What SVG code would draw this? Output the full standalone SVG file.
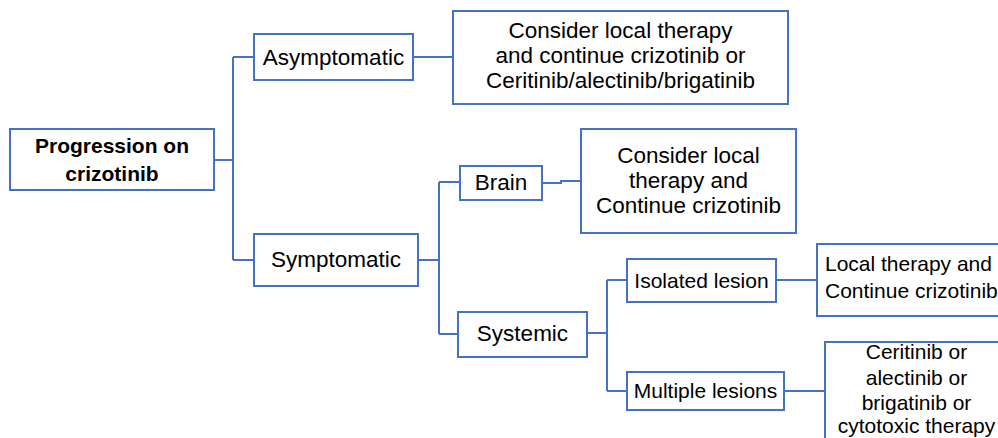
<svg xmlns="http://www.w3.org/2000/svg" width="998" height="438" viewBox="0 0 998 438">
<style>
.box{fill:#fff;stroke:#4472C4;stroke-width:2}
.ln{fill:none;stroke:#4472C4;stroke-width:2}
text{font-family:"Liberation Sans",Arial,sans-serif;font-size:22.5px;fill:#000;text-anchor:middle}
.b{font-weight:bold;font-size:21px}
.s{font-size:21px}
.l{text-anchor:start}
</style>
<rect width="998" height="438" fill="#fff"/>
<g id="connectors">
<path class="ln" d="M214,160 H233 M233,57 V260 M233,57 H254 M233,260 H254"/>
<path class="ln" d="M413,57 H453"/>
<path class="ln" d="M418,260 H439 M439,182 V334 M439,182 H460 M439,334 H458"/>
<path class="ln" d="M542,183 H561 V181 H581"/>
<path class="ln" d="M587,333 H607 M607,280 V391 M607,280 H627 M607,391 H627"/>
<path class="ln" d="M776,280 H817"/>
<path class="ln" d="M784,391 H825"/>
</g>
<g id="n-progression">
<rect class="box" x="10" y="129" width="204" height="61"/>
<text class="b" x="112" y="153">Progression on</text>
<text class="b" x="112" y="181">crizotinib</text>
</g>
<g id="n-asymptomatic">
<rect class="box" x="254" y="34" width="159" height="46"/>
<text x="333.5" y="65">Asymptomatic</text>
</g>
<g id="n-consider1">
<rect class="box" x="453" y="11" width="335" height="93"/>
<text x="620.5" y="38">Consider local therapy</text>
<text x="620.5" y="63">and continue crizotinib or</text>
<text x="620.5" y="88">Ceritinib/alectinib/brigatinib</text>
</g>
<g id="n-symptomatic">
<rect class="box" x="254" y="234" width="164" height="52"/>
<text x="336" y="267">Symptomatic</text>
</g>
<g id="n-brain">
<rect class="box" x="460" y="166" width="82" height="34"/>
<text x="501" y="190">Brain</text>
</g>
<g id="n-consider2">
<rect class="box" x="581" y="129" width="215" height="104"/>
<text x="688.5" y="163">Consider local</text>
<text x="688.5" y="188">therapy and</text>
<text x="688.5" y="213">Continue crizotinib</text>
</g>
<g id="n-systemic">
<rect class="box" x="458" y="312" width="129" height="45"/>
<text x="522.5" y="341">Systemic</text>
</g>
<g id="n-isolated">
<rect class="box" x="627" y="259" width="149" height="43"/>
<text x="701.5" y="288" class="s">Isolated lesion</text>
</g>
<g id="n-local">
<rect class="box" x="817" y="244" width="200" height="72"/>
<text class="l s" x="825" y="271">Local therapy and</text>
<text class="l s" x="825" y="298">Continue crizotinib</text>
</g>
<g id="n-multiple">
<rect class="box" x="627" y="372" width="157" height="38"/>
<text x="705.5" y="398" class="s">Multiple lesions</text>
</g>
<g id="n-ceritinib">
<rect class="box" x="825" y="342" width="183" height="110"/>
<text class="s" x="916.5" y="359">Ceritinib or</text>
<text class="s" x="916.5" y="385">alectinib or</text>
<text class="s" x="916.5" y="410">brigatinib or</text>
<text class="s" x="916.5" y="433">cytotoxic therapy</text>
</g>
</svg>
